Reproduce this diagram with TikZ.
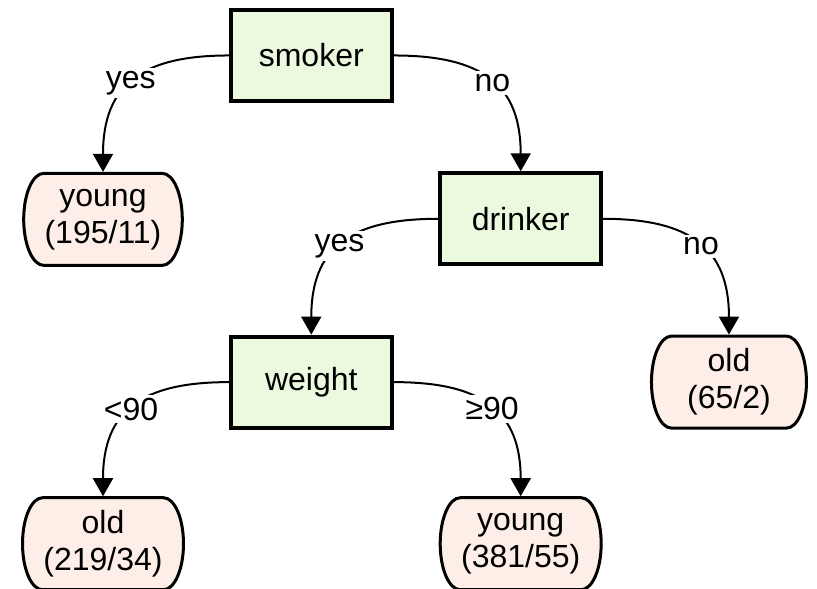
\documentclass[tikz,border=0pt]{standalone}
\usepackage{fontspec}
\setmainfont{Liberation Sans}
\usetikzlibrary{arrows.meta}
\usetikzlibrary{backgrounds}

\definecolor{testgreen}{RGB}{235,249,222}
\definecolor{leafpink}{RGB}{253,239,231}

\begin{document}
\begin{tikzpicture}[->, >={Triangle[length=9pt, width=10pt]},
    font=\fontsize{16}{18.5}\selectfont,
    test/.style = {draw, line width=2pt, fill=testgreen, minimum width=80.5pt, minimum height=45.5pt},
    leafline/.style = {-, line width=1.5pt, fill=leafpink},
    leaf/.style = {align=center, inner xsep=10.45pt, outer sep=0.75pt,
        minimum width=77.5pt, minimum height=46pt,
        append after command={\pgfextra{\begin{pgfonlayer}{background}
            \draw[leafline] ([xshift=10.75pt, yshift=-0.75pt]\tikzlastnode.north west)
                -- ([xshift=-10.75pt, yshift=-0.75pt]\tikzlastnode.north east)
                arc[start angle=90, end angle=-90, x radius=10pt, y radius=23pt]
                -- ([xshift=10.75pt, yshift=0.75pt]\tikzlastnode.south west)
                arc[start angle=270, end angle=90, x radius=10pt, y radius=23pt] -- cycle;
            \end{pgfonlayer}}}},
    answer/.style = {fill=white, inner sep=1.5pt},
    branch/.style = {line width=1pt, looseness=1.3}]
    \useasboundingbox (-1.81, -9.358) rectangle (12.547, 0.975);
    % Nodes

    \node[test] (smoker) at (3.66, 0) {smoker};
    \node[leaf] (young1) at (0, -2.88) {young\\(195/11)};

    \node[test] (drinker) at (7.34, -2.87) {drinker};
    \node[leaf] (old1) at (11.0, -5.74) {old\\(65/2)};

    \node[test] (weight) at (3.66, -5.74) {weight};
    \node[leaf] (old2) at (0, -8.58) {old\\(219/34)};
    \node[leaf] (young2) at (7.34, -8.58) {young\\(381/55)};

    % Edges

    \draw[branch] (smoker.west) to[out=180, in=90] node[answer, pos=0.52] {yes} (young1.north);
    \draw[branch] (smoker.east) to[out=0, in=90] node[answer, pos=0.52] {no} (drinker.north);
    \draw[branch] (drinker.west) to[out=180, in=90] node[answer, pos=0.52] {yes} (weight.north);
    \draw[branch] (drinker.east) to[out=0, in=90] node[answer, pos=0.52] {no} (old1.north);
    \draw[branch] (weight.west) to[out=180, in=90] node[answer, pos=0.52] {<90} (old2.north);
    \draw[branch] (weight.east) to[out=0, in=90] node[answer, pos=0.52] {≥90} (young2.north);

\end{tikzpicture}
\end{document}
